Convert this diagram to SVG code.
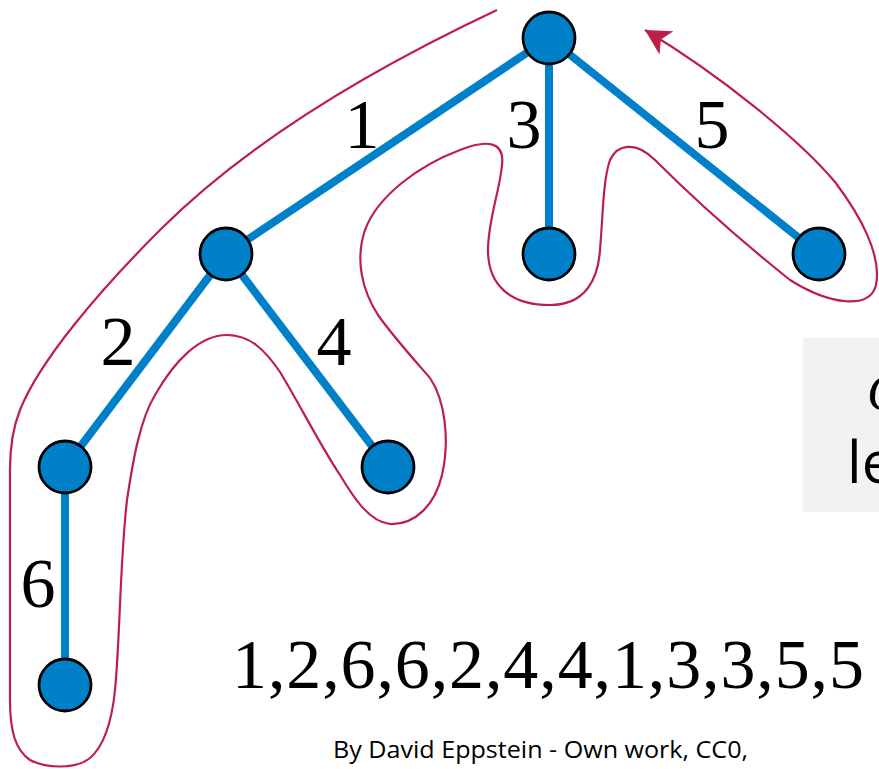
<svg xmlns="http://www.w3.org/2000/svg" width="879" height="769" viewBox="0 0 879 769">
  <style>
    .edge { stroke: #0080C8; stroke-width: 8; stroke-linecap: butt; fill: none; }
    .node { fill: #0080C8; stroke: #000; stroke-width: 2.8; }
    .lbl { font-family: "Liberation Serif", "DejaVu Serif", serif; font-size: 70px; fill: #000; text-anchor: middle; }
    .tour { fill: none; stroke: #BD1F4A; stroke-width: 2.2; }
  </style>
  <defs>
    <marker id="tip" markerUnits="userSpaceOnUse" markerWidth="30" markerHeight="30" viewBox="-26 -15 28 30" refX="0" refY="0" orient="auto">
      <path d="M0,0 L-25,-13.5 L-18.5,0 L-25,13.5 Z" fill="#BD1F4A"/>
    </marker>
  </defs>
  <rect width="879" height="769" fill="#fff"/>

  <!-- side panel, cut by the right edge -->
  <g id="panel">
    <rect x="803" y="338" width="90" height="174" fill="#F2F2F2"/>
    <text x="867" y="410" font-family="'Liberation Serif', serif" font-style="italic" font-size="52" fill="#000">C</text>
    <text x="847" y="483" font-family="'Open Sans', 'Noto Sans', sans-serif" font-size="58" fill="#000">le</text>
  </g>

  <!-- tree edges -->
  <g id="connectors">
    <line class="edge" x1="549" y1="38" x2="226" y2="254"/>
    <line class="edge" x1="549" y1="38" x2="549" y2="254"/>
    <line class="edge" x1="549" y1="38" x2="819" y2="254"/>
    <line class="edge" x1="226" y1="254" x2="65" y2="467"/>
    <line class="edge" x1="226" y1="254" x2="388" y2="467"/>
    <line class="edge" x1="65" y1="467" x2="65" y2="685"/>
  </g>

  <!-- Euler tour around the tree -->
  <path class="tour" marker-end="url(#tip)" d="M497,10 C380,65 250,140 160,230 C100,290 40,360 20,410 C12,430 10,450 10,470 L10,700 C10,730 15,750 30,760 C45,768 75,770 90,758 C105,745 112,720 115,690 C120,640 120,560 127,500 C133,460 140,420 155,395 C175,360 200,335 227,335 C250,335 265,350 280,372 C300,405 320,445 340,475 C355,500 370,522 390,524 C415,525 435,505 442,475 C450,440 445,400 430,378 C410,355 392,335 378,315 C362,290 355,260 365,230 C378,195 420,165 460,150 C485,140 505,140 502,165 C500,190 488,220 488,250 C488,285 510,305 550,305 C585,305 598,280 600,250 C603,215 603,180 610,160 C617,145 635,140 655,160 C690,195 740,240 790,280 C830,305 870,310 876,285 C882,255 860,215 835,182 C800,140 720,75 645,30"/>

  <!-- tree nodes -->
  <g id="n-root"><circle class="node" cx="549" cy="38" r="26"/></g>
  <g id="n-a"><circle class="node" cx="226" cy="254" r="26"/></g>
  <g id="n-b"><circle class="node" cx="549" cy="254" r="26"/></g>
  <g id="n-c"><circle class="node" cx="819" cy="254" r="26"/></g>
  <g id="n-d"><circle class="node" cx="65" cy="467" r="26"/></g>
  <g id="n-e"><circle class="node" cx="388" cy="467" r="26"/></g>
  <g id="n-f"><circle class="node" cx="65" cy="685" r="26"/></g>

  <!-- edge numbers -->
  <g id="edge-labels">
    <text class="lbl" x="362" y="148">1</text>
    <text class="lbl" x="524" y="148">3</text>
    <text class="lbl" x="712" y="148">5</text>
    <text class="lbl" x="118" y="365">2</text>
    <text class="lbl" x="334" y="365">4</text>
    <text class="lbl" x="38" y="607">6</text>
  </g>

  <text x="232" y="688" font-family="'Liberation Serif', 'DejaVu Serif', serif" font-size="70" textLength="632" lengthAdjust="spacing" fill="#000">1,2,6,6,2,4,4,1,3,3,5,5</text>
  <text x="333" y="758" font-family="'Open Sans', 'Noto Sans', sans-serif" font-size="24" textLength="415" lengthAdjust="spacingAndGlyphs" fill="#000">By David Eppstein - Own work, CC0,</text>
</svg>
